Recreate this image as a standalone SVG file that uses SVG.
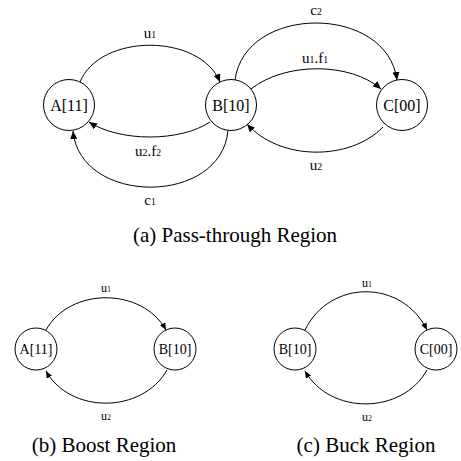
<svg xmlns="http://www.w3.org/2000/svg" width="461" height="461" viewBox="0 0 461 461">
<style>
  text { font-family: 'Liberation Serif', 'DejaVu Serif', serif; fill: #000; text-anchor: middle; }
  .node { fill: #fff; stroke: #000; stroke-width: 1; }
  .nl { font-size: 16px; }
  .nls { font-size: 14px; }
  .edge { fill: none; stroke: #000; stroke-width: 1; }
  .el { font-size: 15px; }
  .els { font-size: 12px; }
  .sub { font-size: 65%; }
  .cap { font-size: 21px; }
</style>
<defs>
  <marker id="ah" markerUnits="userSpaceOnUse" markerWidth="9" markerHeight="7" refX="8" refY="3.5" orient="auto">
    <path d="M0,0 L8,3.5 L0,7 z" fill="#000"/>
  </marker>
  <marker id="ahs" markerUnits="userSpaceOnUse" markerWidth="8" markerHeight="6" refX="7" refY="3" orient="auto">
    <path d="M0,0 L7,3 L0,6 z" fill="#000"/>
  </marker>
</defs>
<rect width="461" height="461" fill="#fff"/>

<g id="connectors">
  <path class="edge" marker-end="url(#ah)" d="M80,82 C100,33 200,33 220,82"/>
  <path class="edge" marker-end="url(#ah)" d="M210,122 C180,142 120,142 89,122"/>
  <path class="edge" marker-end="url(#ah)" d="M228,130 C222,206 80,206 73,131"/>
  <path class="edge" marker-end="url(#ah)" d="M235,80 C245,4 387,4 397,80"/>
  <path class="edge" marker-end="url(#ah)" d="M251,89 C285,62 350,62 381,89"/>
  <path class="edge" marker-end="url(#ah)" d="M383,127 C350,161 280,161 247,124"/>
  <path class="edge" marker-end="url(#ahs)" d="M46,330 C70,287 142,287 166,330"/>
  <path class="edge" marker-end="url(#ahs)" d="M167,370 C142,414 70,414 46,371"/>
  <path class="edge" marker-end="url(#ahs)" d="M305,330 C330,279 402,279 427,330"/>
  <path class="edge" marker-end="url(#ahs)" d="M427,370 C402,415 330,415 305,371"/>
</g>

<g id="edge-labels">
  <text class="el" x="150" y="38">u<tspan class="sub">1</tspan></text>
  <text class="el" x="148" y="156">u<tspan class="sub">2</tspan>.f<tspan class="sub">2</tspan></text>
  <text class="el" x="150" y="205">c<tspan class="sub">1</tspan></text>
  <text class="el" x="316" y="15">c<tspan class="sub">2</tspan></text>
  <text class="el" x="315" y="63">u<tspan class="sub">1</tspan>.f<tspan class="sub">1</tspan></text>
  <text class="el" x="316" y="170">u<tspan class="sub">2</tspan></text>
  <text class="els" x="106" y="292">u<tspan class="sub">1</tspan></text>
  <text class="els" x="106" y="420">u<tspan class="sub">2</tspan></text>
  <text class="els" x="367" y="287">u<tspan class="sub">1</tspan></text>
  <text class="els" x="367" y="421">u<tspan class="sub">2</tspan></text>
</g>

<g id="a-A"><circle class="node" cx="69" cy="105" r="25.5"/><text class="nl" x="69" y="111">A[11]</text></g>
<g id="a-B"><circle class="node" cx="231" cy="105" r="25.5"/><text class="nl" x="231" y="111">B[10]</text></g>
<g id="a-C"><circle class="node" cx="402" cy="105" r="25.5"/><text class="nl" x="402" y="111">C[00]</text></g>

<g id="b-A"><circle class="node" cx="36" cy="349" r="21"/><text class="nls" x="36" y="354">A[11]</text></g>
<g id="b-B"><circle class="node" cx="175" cy="349" r="21"/><text class="nls" x="175" y="354">B[10]</text></g>

<g id="c-B"><circle class="node" cx="295" cy="349" r="21"/><text class="nls" x="295" y="354">B[10]</text></g>
<g id="c-C"><circle class="node" cx="436" cy="349" r="21"/><text class="nls" x="436" y="354">C[00]</text></g>

<g id="captions">
  <text class="cap" x="235" y="242">(a) Pass-through Region</text>
  <text class="cap" x="104" y="452">(b) Boost Region</text>
  <text class="cap" x="366" y="452">(c) Buck Region</text>
</g>
</svg>
